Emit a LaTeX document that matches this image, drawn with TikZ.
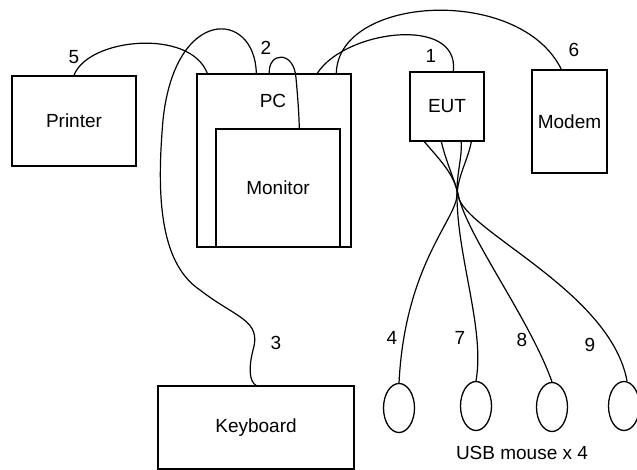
\documentclass[tikz,border=0pt]{standalone}
\usepackage{fontspec}
\setmainfont{Liberation Sans}
\usepackage{tikz}
\usetikzlibrary{shapes.geometric}

\begin{document}
\begin{tikzpicture}[
    x=1pt, y=-1pt,
    every node/.style={font=\fontsize{19}{22}\selectfont},
    box/.style={rectangle, draw=black, line width=1.4pt, inner sep=0pt},
    mouse/.style={ellipse, draw=black, line width=1.3pt, inner sep=0pt,
                  minimum width=31pt, minimum height=49pt},
    cable/.style={draw=black, line width=1.2pt},
    num/.style={inner sep=1pt}
]
\useasboundingbox (0,0) rectangle (637,470);

\node[box, minimum width=124pt, minimum height=90pt]  (printer)  at (74,121)    {Printer};
\node[box, minimum width=154pt, minimum height=173pt] (pc)       at (274,160.5) {};
\node[num]                                            (pctext)   at (273,101)   {PC};
\node[box, minimum width=124pt, minimum height=118pt] (monitor)  at (278,188)   {Monitor};
\node[box, minimum width=74pt,  minimum height=69pt]  (eut)      at (447,106.5) {EUT};
\node[box, minimum width=75pt,  minimum height=103pt] (modem)    at (569.5,121.5) {Modem};
\node[box, minimum width=196pt, minimum height=83pt]  (keyboard) at (256,427.5) {Keyboard};

\node[mouse] (m4) at (399,408) {};
\node[mouse] (m7) at (476,406) {};
\node[mouse] (m8) at (552,407) {};
\node[mouse] (m9) at (624,406) {};
\node (usb) at (522,453) {USB mouse x 4};

\node[num] (l5) at (74,57)  {5};
\node[num] (l2) at (266,48) {2};
\node[num] (l1) at (431,56) {1};
\node[num] (l6) at (574,50) {6};
\node[num] (l3) at (276,343) {3};
\node[num] (l4) at (392,338) {4};
\node[num] (l7) at (460,338) {7};
\node[num] (l8) at (522,340) {8};
\node[num] (l9) at (590,345) {9};

\draw[cable] (printer.north) .. controls (88,38) and (190,28) .. ([xshift=11pt]pc.north west);
\draw[cable] ([xshift=60pt]pc.north west) .. controls (255,10) and (175,5) .. (163,120)
             .. controls (157,190) and (158,262) .. (200,290)
             .. controls (236,318) and (262,320) .. (253,350)
             .. controls (248,370) and (250,382) .. (keyboard.north);
\draw[cable] ([xshift=73pt]pc.north west) .. controls (268,52) and (294,50) .. (296,78)
             .. controls (298,100) and (299,115) .. ([xshift=84pt]monitor.north west);
\draw[cable] ([xshift=121pt]pc.north west) .. controls (345,30) and (460,15) .. ([xshift=44pt]eut.north west);
\draw[cable] ([xshift=140pt]pc.north west) .. controls (338,-5) and (520,-15) .. ([xshift=30pt]modem.north west);

\draw[cable] ([xshift=15pt]eut.south west) .. controls (440,160) and (455,175) .. (458,195)
             .. controls (462,230) and (610,290) .. ([xshift=3pt]m9.north);
\draw[cable] ([xshift=32pt]eut.south west) .. controls (447,165) and (455,180) .. (459,198)
             .. controls (470,240) and (530,320) .. (m8.north);
\draw[cable] ([xshift=52pt]eut.south west) .. controls (462,160) and (456,175) .. (457,198)
             .. controls (458,260) and (485,330) .. (m7.north);
\draw[cable] ([xshift=62pt]eut.south west) .. controls (468,160) and (458,175) .. (457,195)
             .. controls (456,220) and (405,265) .. (m4.north);

\end{tikzpicture}
\end{document}
